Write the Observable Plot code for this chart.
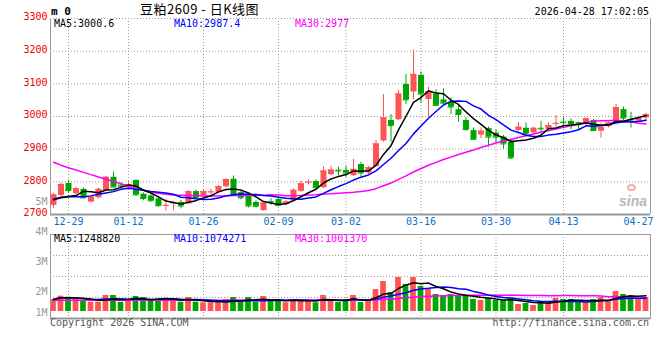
<!DOCTYPE html>
<html><head><meta charset="utf-8">
<script src="https://cdn.jsdelivr.net/npm/d3@7"></script>
<script src="https://cdn.jsdelivr.net/npm/@observablehq/plot@0.6"></script>
<style>
body{margin:0;background:#fff;}
#wrap{position:relative;width:660px;height:360px;overflow:hidden;background:#fff;font-family:"DejaVu Sans Mono",monospace;font-size:10px;}
#wrap svg{position:absolute;left:0;top:0;}
.t{position:absolute;white-space:pre;line-height:10px;}
</style></head><body><div id="wrap"></div>
<script>
// ---- data ----
const dates = ["12-25","12-26","12-29","12-30","12-31","01-05","01-06","01-07","01-08","01-09",
"01-12","01-13","01-14","01-15","01-16","01-19","01-20","01-21","01-22","01-23",
"01-26","01-27","01-28","01-29","01-30","02-02","02-03","02-04","02-05","02-06",
"02-09","02-10","02-11","02-12","02-13","02-24","02-25","02-26","02-27","03-02",
"03-03","03-04","03-05","03-06","03-09","03-10","03-11","03-12","03-13","03-16",
"03-17","03-18","03-19","03-20","03-23","03-24","03-25","03-26","03-27","03-30",
"03-31","04-01","04-02","04-03","04-07","04-08","04-09","04-10","04-13","04-14",
"04-15","04-16","04-17","04-20","04-21","04-22","04-23","04-24","04-27","04-28"];
const opens = [2728,2758,2795,2764,2777,2738,2751,2773,2814,2790,
2781,2804,2762,2757,2748,2726,2733,2737,2733,2770,
2758,2767,2768,2785,2808,2767,2755,2737,2712,2740,
2746,2730,2741,2771,2797,2801,2782,2822,2836,2835,
2819,2853,2827,2847,2925,2988,2990,3098,3075,3126,
3052,3069,3051,3044,3021,2988,2957,2943,2963,2949,
2937,2921,2957,2964,2950,2964,2960,2977,2983,2985,
2981,2978,2988,2955,2969,2978,3021,2991,2983,2996];
const closes = [2760,2792,2773,2779,2751,2753,2777,2814,2784,2787,
2791,2760,2749,2742,2727,2728,2736,2726,2770,2752,
2770,2769,2785,2807,2761,2751,2726,2725,2735,2738,
2728,2738,2774,2794,2799,2782,2833,2836,2833,2827,
2838,2827,2843,2916,2996,2972,3069,3051,3129,3069,
3075,3034,3041,3029,3006,2960,2930,2955,2937,2937,
2916,2873,2967,2947,2964,2962,2972,2979,2981,2974,
2975,2993,2957,2967,2980,3027,2995,2989,2993,3006];
const highs = [2765,2796,2805,2783,2781,2756,2780,2817,2830,2797,
2799,2807,2766,2761,2753,2747,2740,2743,2773,2774,
2777,2777,2789,2810,2818,2775,2758,2742,2738,2748,
2755,2743,2779,2802,2806,2806,2846,2848,2845,2847,
2869,2860,2847,2927,3067,3006,3080,3129,3204,3136,
3090,3082,3085,3057,3034,2996,2965,2965,2968,2959,
2942,2932,2981,2980,2967,2985,2981,3003,2998,2993,
2983,2996,2991,2978,2983,3037,3029,3013,2996,3010];
const lows = [2718,2753,2764,2760,2748,2735,2748,2770,2781,2780,
2777,2756,2742,2738,2722,2710,2712,2717,2730,2748,
2753,2759,2765,2781,2757,2745,2720,2720,2710,2728,
2725,2727,2738,2768,2791,2779,2779,2819,2818,2814,
2816,2814,2823,2845,2921,2921,2988,3037,3051,3041,
3000,3032,3034,3006,2983,2955,2927,2932,2906,2918,
2901,2868,2952,2942,2945,2942,2952,2967,2969,2959,
2959,2972,2957,2934,2965,2976,2983,2965,2981,2986];
const volumes = [945000,1205000,1126000,945000,866000,732000,732000,1260000,1260000,732000,
787000,1181000,1102000,866000,945000,1024000,945000,732000,1102000,732000,
685000,685000,685000,921000,1102000,732000,1102000,732000,1181000,811000,
811000,685000,945000,945000,866000,685000,1260000,866000,709000,945000,
1260000,709000,787000,1732000,2362000,1496000,2677000,2126000,2677000,1969000,
1732000,1339000,1260000,1339000,1260000,1181000,945000,866000,1024000,866000,
866000,1024000,551000,630000,472000,787000,787000,1024000,945000,945000,
709000,709000,945000,1102000,866000,1575000,1339000,1260000,945000,1102000];
// moving-average values visible before a full window exists
const ma5Lead = [2745,2751,2755,2758];
const ma10Lead = [2747,2753,2755,2754,2754,2757,2762,2766,2770];
const ma30Lead = [2860,2851,2843,2836,2829,2822,2815,2808,2801,2794,2787,2780,2774,2769,2765,2762,2760,2759,2758,2758,2757,2757,2757,2757,2758,2758,2758,2759,2759];
const volMa30Lead = [880000,880000,880000,880000,880000,880000,880000,880000,880000,880000,880000,880000,880000,880000,880000,880000,880000,880000,880000,880000,880000,890000,890000,890000,900000,900000,900000,910000,910000];
const tickDates = ["12-29","01-12","01-26","02-09","03-02","03-16","03-30","04-13","04-27"];
const priceTicks = [2700,2800,2900,3000,3100,3200,3300];
const volTickLabels = ["1M","2M","3M","4M","5M"];
const volTickValues = [-80000,1570000,3940000,6300000,8660000];
const volGrid = [1100000,2760000,4410000];
const legendPrice = ["MA5:3000.6","MA10:2987.4","MA30:2977"];
const legendVol = ["MA5:1248820","MA10:1074271","MA30:1001370"];

// ---- build ----
const RED = "#ff5454", GREEN = "#00a600", GRID = "#999";
const candles = dates.map((d, i) => ({i, date: d, open: opens[i], high: highs[i], low: lows[i], close: closes[i], vol: volumes[i], col: closes[i] >= opens[i] ? RED : GREEN}));
const maSeries = (vals, k, lead) => vals.map((v, i) => i < k - 1 ? (lead ? lead[i] : d3.mean(vals.slice(0, i + 1))) : d3.mean(vals.slice(i - k + 1, i + 1)));
const ma5 = maSeries(closes, 5, ma5Lead), ma10 = maSeries(closes, 10, ma10Lead), ma30 = maSeries(closes, 30, ma30Lead);
const vma5 = maSeries(volumes, 5, null), vma10 = maSeries(volumes, 10, null), vma30 = maSeries(volumes, 30, volMa30Lead);
const xDomain = [-0.4, 79.6];
const tickIdx = tickDates.map(d => dates.indexOf(d));
const gridIdx = tickIdx.slice(0, -1);
const baseStyle = {background: "transparent", fontFamily: "DejaVu Sans Mono, monospace", fontSize: "10px", overflow: "visible"};
const yPrice = [2700, 3300];

const price = Plot.plot({
  width: 660, height: 360, marginLeft: 50, marginRight: 10, marginTop: 18, marginBottom: 146,
  x: {domain: xDomain, axis: null, label: null},
  y: {domain: yPrice, axis: null, label: null},
  style: baseStyle,
  marks: [
    Plot.ruleY(priceTicks.filter(t => t > yPrice[0]), {stroke: GRID, strokeDasharray: "1,2"}),
    Plot.ruleX(gridIdx, {stroke: GRID, strokeDasharray: "1,2"}),
    Plot.ruleX(xDomain, {stroke: GRID}),
    Plot.ruleY([yPrice[0]], {stroke: GRID, strokeWidth: 2}),
    Plot.ruleX(candles, {x: "i", y1: "low", y2: "high", stroke: "col"}),
    Plot.ruleX(candles, {x: "i", y1: "open", y2: "close", stroke: "col", strokeWidth: 6}),
    Plot.ruleY(candles, {x1: d => d.i - 0.4, x2: d => d.i + 0.4, y: "close", stroke: "col"}),
    Plot.line(candles, {x: "i", y: d => ma30[d.i], stroke: "#ff00ff"}),
    Plot.line(candles, {x: "i", y: d => ma10[d.i], stroke: "#0000ff"}),
    Plot.line(candles, {x: "i", y: d => ma5[d.i], stroke: "#000"}),
    Plot.axisY(priceTicks, {anchor: "left", label: null, tickSize: 0, tickPadding: 3, tickFormat: d => String(d), color: "#ee0000", dy: -1.5, fontSize: 10}),
    Plot.axisX(tickIdx, {anchor: "bottom", label: null, tickSize: 0, tickPadding: 3, tickFormat: i => dates[i], color: "#0a70c6", fontSize: 10})
  ]
});

const yVol = [-550000, 6060000];
const vol = Plot.plot({
  width: 660, height: 360, marginLeft: 50, marginRight: 10, marginTop: 234, marginBottom: 42,
  x: {domain: xDomain, axis: null, label: null},
  y: {domain: yVol, axis: null, label: null},
  style: baseStyle,
  marks: [
    Plot.ruleY(volGrid, {stroke: GRID, strokeDasharray: "1,2"}),
    Plot.ruleX(gridIdx, {stroke: GRID, strokeDasharray: "1,2"}),
    Plot.rect(candles, {x1: d => d.i - 0.38, x2: d => d.i + 0.38, y1: 0, y2: "vol", fill: "col"}),
    Plot.line(candles, {x: "i", y: d => vma30[d.i], stroke: "#ff00ff"}),
    Plot.line(candles, {x: "i", y: d => vma10[d.i], stroke: "#0000ff"}),
    Plot.line(candles, {x: "i", y: d => vma5[d.i], stroke: "#000"}),
    Plot.frame({stroke: GRID}),
    Plot.ruleY([yVol[0]], {stroke: GRID, strokeWidth: 2}),
    Plot.text(volTickValues, {y: d => d, text: (d, i) => volTickLabels[i], frameAnchor: "left", textAnchor: "end", dx: -3, fill: "#999", fontSize: 10})
  ]
});

const wrap = document.getElementById("wrap");
wrap.appendChild(price);
wrap.appendChild(vol);

function addText(txt, css) {
  const el = document.createElement("div");
  el.className = "t";
  el.textContent = txt;
  Object.assign(el.style, css);
  wrap.appendChild(el);
  return el;
}
addText("m 0", {left: "51px", top: "6px", fontWeight: "bold", fontSize: "11px", lineHeight: "11px"});
addText("豆粕2609 - 日K线图", {left: "140px", top: "2px", fontFamily: "'Noto Sans CJK SC', sans-serif", fontSize: "13px", lineHeight: "14px", letterSpacing: "0.5px"});
addText("2026-04-28 17:02:05", {right: "11px", top: "7px", color: "#000"});
const legCols = ["#000", "#0000ff", "#ff00ff"], legX = [54, 174, 295];
legendPrice.forEach((s, k) => addText(s, {left: legX[k] + "px", top: "19px", color: legCols[k]}));
legendVol.forEach((s, k) => addText(s, {left: legX[k] + "px", top: "234px", color: legCols[k]}));
addText("Copyright 2026 SINA.COM", {left: "50px", top: "318px", color: "#555"});
addText("http://finance.sina.com.cn", {right: "11px", top: "318px", color: "#555"});
addText("sina", {left: "619px", top: "194px", fontFamily: "'Liberation Sans', sans-serif", fontStyle: "italic", fontWeight: "bold", fontSize: "14px", lineHeight: "14px", color: "#b8b8b8"});
// watermark eye (decorative shape, not text)
const eye = document.createElement("div");
Object.assign(eye.style, {position: "absolute", left: "627px", top: "184px", width: "9px", height: "7px", borderRadius: "50%", border: "2px solid #f2b0b0", boxSizing: "border-box"});
wrap.appendChild(eye);
</script></body></html>
